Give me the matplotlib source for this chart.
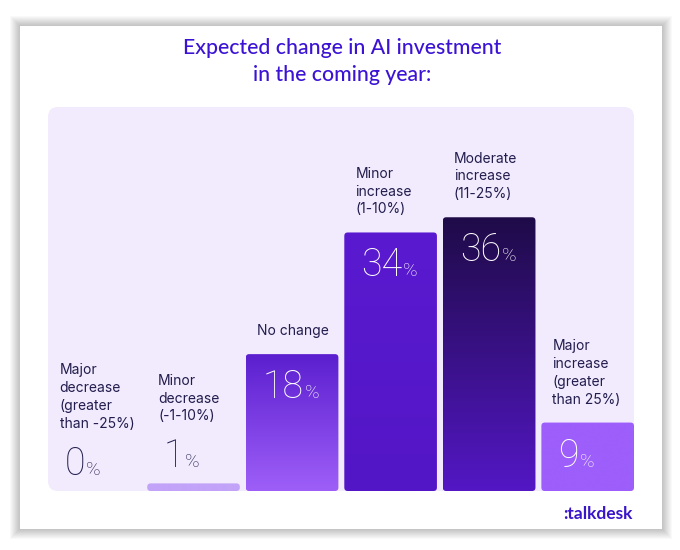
import numpy as np
import matplotlib
matplotlib.use("Agg")
import matplotlib.pyplot as plt
from matplotlib.patches import FancyBboxPatch, Rectangle
from matplotlib.colors import LinearSegmentedColormap

W, H = 680, 550
PT = 0.72  # points per pixel at dpi 100

# --- data ---
categories = ["Major\ndecrease\n(greater\nthan -25%)", "Minor\ndecrease\n(-1-10%)", "No change",
              "Minor\nincrease\n(1-10%)", "Moderate\nincrease\n(11-25%)",
              "Major\nincrease\n(greater\nthan 25%)"]
values = [0, 1, 18, 34, 36, 9]
top_colors = ["#c2a3f9", "#c2a3f9", "#5b1fcf", "#5a1ad0", "#1f0b48", "#9d5efb"]
bottom_colors = ["#c2a3f9", "#c2a3f9", "#9e5ff8", "#5316c6", "#5317c4", "#9d5efb"]

NAVY = "#221d4d"
PANEL = "#f2eafd"
TITLE = "#3c13d4"

fig = plt.figure(figsize=(W / 100, H / 100), dpi=100)
fig.patch.set_facecolor("white")

# card with soft shadow
cx0, cy0, cx1, cy1 = 20, 26, 662, 529
for i in range(10, 0, -1):
    fig.patches.append(Rectangle(((cx0 - i) / W, 1 - (cy1 + i) / H), (cx1 - cx0 + 2 * i) / W,
                                 (cy1 - cy0 + 2 * i) / H, transform=fig.transFigure,
                                 fc="black", ec="none", alpha=0.022, zorder=-3))
fig.patches.append(Rectangle((cx0 / W, 1 - cy1 / H), (cx1 - cx0) / W, (cy1 - cy0) / H,
                             transform=fig.transFigure, fc="white", ec="none", zorder=-2))

# panel axes
px0, py0, px1, py1 = 48, 107, 634, 491
ax = fig.add_axes([px0 / W, 1 - py1 / H, (px1 - px0) / W, (py1 - py0) / H])
ax.axis("off")
ax.add_patch(FancyBboxPatch((0, 0), 1, 1, boxstyle="round,pad=0,rounding_size=0.017",
                            mutation_aspect=(px1 - px0) / (py1 - py0), transform=ax.transAxes,
                            fc=PANEL, ec="none", zorder=0, clip_on=False))

x = np.arange(len(values))
w = 0.94
XLIM = (-0.477, 5.47)
YLIM = (0, 50.5)
asp = ((px1 - px0) / (XLIM[1] - XLIM[0])) / ((py1 - py0) / (YLIM[1] - YLIM[0]))

num_font = dict(family=["Roboto", "DejaVu Sans"], weight="light")
lab_font = dict(family=["Inter", "DejaVu Sans"])

for xi, v, cat, ct, cb in zip(x, values, categories, top_colors, bottom_colors):
    left = xi - w / 2
    if v > 0:
        patch = FancyBboxPatch((left, 0), w, v, boxstyle="round,pad=0,rounding_size=0.035",
                               mutation_aspect=asp, fc="none", ec="none", zorder=2)
        ax.add_patch(patch)
        cmap = LinearSegmentedColormap.from_list("g", [cb, ct])
        im = ax.imshow(np.linspace(0, 1, 256).reshape(-1, 1), extent=(left, left + w, 0, v),
                       origin="lower", aspect="auto", cmap=cmap, zorder=2)
        im.set_clip_path(patch)
    inside = v >= 5
    if inside:
        num = ax.annotate(str(v), xy=(left, v), xytext=(17 * PT, -44 * PT), textcoords="offset points",
                          ha="left", va="baseline", fontsize=27, color="white", zorder=5, **num_font)
        ax.annotate(cat, xy=(left, v), xytext=(11 * PT, 16 * PT), textcoords="offset points",
                    ha="left", va="bottom", fontsize=10, color=NAVY, linespacing=1.35, **lab_font)
        pc = "white"
    else:
        num = ax.annotate(str(v), xy=(left, v), xytext=(16 * PT, 16 * PT), textcoords="offset points",
                          ha="left", va="baseline", fontsize=27, color=NAVY, zorder=5, **num_font)
        ax.annotate(cat, xy=(left, v), xytext=(11 * PT, 60 * PT), textcoords="offset points",
                    ha="left", va="bottom", fontsize=10, color=NAVY, linespacing=1.35, **lab_font)
        pc = NAVY
    ax.annotate("%", xy=(1, 0), xycoords=num, xytext=(0.5, 2.9), textcoords="offset points",
                ha="left", va="bottom", fontsize=14, color=pc, zorder=5, **num_font)

ax.set_xlim(*XLIM)
ax.set_ylim(*YLIM)

fig.text(342 / W, 1 - 61.5 / H, "Expected change in AI investment\nin the coming year:",
         ha="center", va="center", fontsize=15.3, color=TITLE, linespacing=1.42,
         family=["Lato", "DejaVu Sans"], weight="medium")
fig.text(632 / W, 1 - 514 / H, ":talkdesk", ha="right", va="center", fontsize=12.5,
         color="#3a16c8", weight="bold", family=["Lato", "DejaVu Sans"])

fig.savefig("out.png", dpi=100)
